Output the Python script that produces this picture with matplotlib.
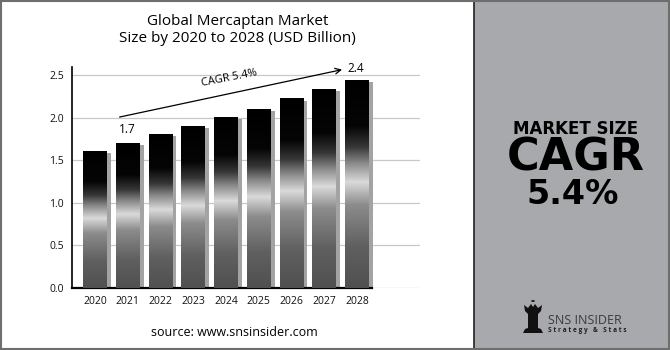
import numpy as np
import matplotlib
matplotlib.use("Agg")
import matplotlib.pyplot as plt
from matplotlib.colors import LinearSegmentedColormap
from matplotlib.patches import Rectangle, Polygon, Circle

# market size, USD billion
years = ["2020", "2021", "2022", "2023", "2024", "2025", "2026", "2027", "2028"]
values = [1.6, 1.7, 1.8, 1.9, 2.0, 2.1, 2.22, 2.33, 2.44]
y_ticks = [0.0, 0.5, 1.0, 1.5, 2.0, 2.5]
cagr = "5.4%"

plt.rcParams["font.family"] = ["Open Sans", "DejaVu Sans"]

fig = plt.figure(figsize=(6.7, 3.5), dpi=100)
fig.patch.set_facecolor("white")

# metallic shading along the bar height (0 = bottom, 1 = top)
metal = LinearSegmentedColormap.from_list("metal", [
    (0.00, "#505050"),
    (0.20, "#606060"),
    (0.40, "#8c8c8c"),
    (0.51, "#dadada"),
    (0.60, "#8a8a8a"),
    (0.68, "#363636"),
    (0.78, "#050505"),
    (1.00, "#000000"),
])
grad = np.linspace(0, 1, 256).reshape(-1, 1)

ax = fig.add_axes([0.1075, 0.177, 0.519, 0.633])
x = np.arange(len(years))
width = 0.72

# grey drop shadow on the right of each bar
ax.bar(x + 0.13, np.array(values) - 0.02, width=width, color="#a3a3a3", zorder=2)
for xi, v in zip(x, values):
    ax.imshow(grad, cmap=metal, origin="lower", aspect="auto",
              extent=[xi - width / 2, xi + width / 2, 0, v], zorder=3)

ax.set_xlim(-0.70, 9.92)
ax.set_ylim(0, 2.6)
ax.set_yticks(y_ticks)
ax.set_yticklabels([f"{t:.1f}" for t in y_ticks])
ax.set_xticks(x)
ax.set_xticklabels(years)
ax.tick_params(length=0, labelsize=7.5, colors="#111111", pad=6)
ax.grid(axis="y", color="#c8c8c8", linewidth=0.9, zorder=0)
for s in ["top", "right"]:
    ax.spines[s].set_visible(False)
ax.spines["left"].set_linewidth(1.2)
ax.spines["bottom"].set_linewidth(1.6)
ax.spines["bottom"].set_bounds(-0.70, 8.45)
ax.set_facecolor("none")

# growth arrow with CAGR note
ax.annotate("", xy=(7.63, 2.57), xytext=(0.67, 2.0),
            arrowprops=dict(arrowstyle="->", color="black", lw=0.9),
            annotation_clip=False, zorder=5)
ax.text(4.1, 2.46, f"CAGR {cagr}", rotation=11, ha="center", va="center",
        fontsize=8, zorder=5)
ax.text(7.72, 2.58, f"{values[-1]:.1f}", ha="left", va="center", fontsize=8.5,
        zorder=5)
ax.text(1.0, values[1] + 0.16, f"{values[1]:.1f}", ha="center", va="center",
        fontsize=8.5, zorder=5)

fig.text(0.355, 0.915, "Global Mercaptan Market\nSize by 2020 to 2028 (USD Billion)",
         ha="center", va="center", fontsize=11, linespacing=1.2)
fig.text(0.35, 0.05, "source: www.snsinsider.com", ha="center", va="center",
         fontsize=9)

# right side panel
fig.patches.append(Rectangle((474 / 670, 0), 196 / 670, 1, transform=fig.transFigure,
                             facecolor="#a8a9ad", edgecolor="none", zorder=0))
fig.lines.append(plt.Line2D([474 / 670, 474 / 670], [0, 1], transform=fig.transFigure,
                            color="#222222", lw=1.2))
fig.patches.append(Rectangle((0.001, 0.002), 0.998, 0.996, transform=fig.transFigure,
                             facecolor="none", edgecolor="#6e6e6e", lw=1.5, zorder=10))

panel_font = ["DejaVu Sans"]
fig.text(576 / 670, 1 - 129 / 350, "MARKET SIZE", ha="center", va="center",
         fontsize=12, fontweight="bold", family=panel_font)
fig.text(576 / 670, 1 - 158 / 350, "CAGR", ha="center", va="center",
         fontsize=32, fontweight="bold", family=panel_font)
fig.text(573 / 670, 1 - 194 / 350, cagr, ha="center", va="center",
         fontsize=24, fontweight="bold", family=panel_font)

# logo: small chess piece and wordmark
rx, ry = 533 / 670, 1 - 333 / 350
sx, sy = 1 / 670, 1 / 350
piece = Polygon([(rx - 10 * sx, ry), (rx + 10 * sx, ry), (rx + 8 * sx, ry + 4 * sy),
                 (rx + 5 * sx, ry + 5 * sy), (rx + 5 * sx, ry + 19 * sy),
                 (rx + 8 * sx, ry + 22 * sy), (rx + 9 * sx, ry + 28 * sy),
                 (rx + 5 * sx, ry + 25 * sy), (rx + 2 * sx, ry + 29 * sy),
                 (rx, ry + 26 * sy), (rx - 2 * sx, ry + 29 * sy),
                 (rx - 5 * sx, ry + 25 * sy), (rx - 9 * sx, ry + 28 * sy),
                 (rx - 8 * sx, ry + 22 * sy), (rx - 5 * sx, ry + 19 * sy),
                 (rx - 5 * sx, ry + 5 * sy), (rx - 8 * sx, ry + 4 * sy)],
                closed=True, transform=fig.transFigure, facecolor="#111111",
                edgecolor="none")
fig.patches.append(piece)
fig.patches.append(Circle((rx, ry + 32 * sy), 1.8 * sx, transform=fig.transFigure,
                          facecolor="#111111", edgecolor="none"))
fig.text(548 / 670, 1 - 320 / 350, "SNS INSIDER", ha="left", va="center",
         fontsize=9, color="#3a3a3a")
fig.text(548 / 670, 1 - 331 / 350, "S t r a t e g y   &   S t a t s", ha="left",
         va="center", fontsize=4.7, color="#222222", fontweight="bold")

fig.savefig("out.png", dpi=100)
